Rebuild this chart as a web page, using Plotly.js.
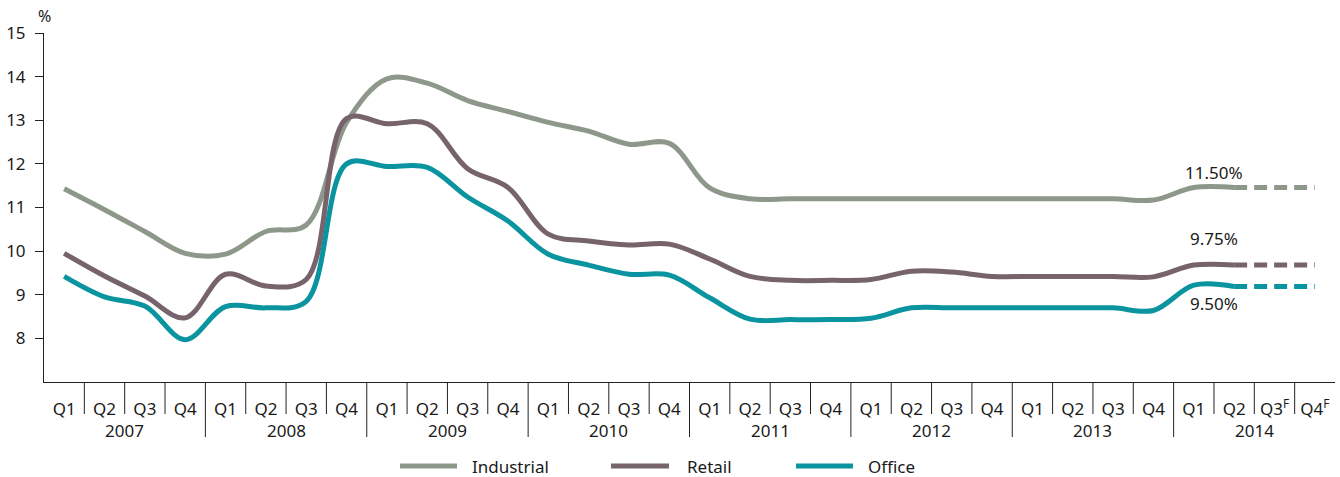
<!DOCTYPE html>
<html><head><meta charset="utf-8">
<script src="https://cdn.plot.ly/plotly-3.0.1.min.js"></script>
<style>html,body{margin:0;padding:0;background:#fff}#chart{width:1340px;height:477px}</style>
</head><body><div id="chart"></div>
<script>
// ---- data ----
const years = ['2007','2008','2009','2010','2011','2012','2013','2014'];
const quarterLabels = [
  'Q1','Q2','Q3','Q4','Q1','Q2','Q3','Q4','Q1','Q2','Q3','Q4','Q1','Q2','Q3','Q4',
  'Q1','Q2','Q3','Q4','Q1','Q2','Q3','Q4','Q1','Q2','Q3','Q4','Q1','Q2','Q3<sup>F</sup>','Q4<sup>F</sup>'
];
const seriesNames = ['Industrial','Retail','Office'];
const industrial = [11.43,10.95,10.45,9.95,9.93,10.45,10.6,12.95,13.95,13.85,13.45,13.2,12.95,12.75,12.45,12.47,
  11.45,11.2,11.2,11.2,11.2,11.2,11.2,11.2,11.2,11.2,11.2,11.17,11.46,11.46,11.46,11.46];
const retail = [9.95,9.43,8.97,8.47,9.47,9.2,9.35,13.04,12.92,12.92,11.89,11.46,10.39,10.23,10.14,10.16,
  9.82,9.42,9.33,9.33,9.35,9.54,9.52,9.42,9.42,9.42,9.42,9.41,9.68,9.68,9.68,9.68];
const office = [9.42,8.95,8.74,7.97,8.73,8.7,8.85,12.0,11.94,11.92,11.24,10.69,9.93,9.68,9.47,9.45,
  8.93,8.44,8.43,8.43,8.46,8.7,8.7,8.7,8.7,8.7,8.7,8.64,9.22,9.19,9.19,9.19];
const endLabels = ['11.50%','9.75%','9.50%'];
const forecastStart = 29; // last actual quarter index (Q2 2014)

// ---- styles ----
const colors = ['#8d988b','#76636c','#0a94a0'];
const FONT = 'Noto Sans, Open Sans, sans-serif';
const FS = 17;
const TXT = '#1a1a1a';
const L = 44, R = 5, T = 33, B = 95, W = 1340, H = 477;
const plotW = W - L - R, plotH = H - T - B;
const px2x = p => (p - L) / plotW;
const px2y = p => (H - B - p) / plotH;

const series = [industrial, retail, office];
const idx = quarterLabels.map((_, i) => i);
const traces = [];
series.forEach((s, k) => {
  traces.push({
    x: idx.slice(0, forecastStart + 1), y: s.slice(0, forecastStart + 1),
    type: 'scatter', mode: 'lines', name: seriesNames[k], showlegend: false,
    line: {color: colors[k], width: 5, shape: 'spline', smoothing: 1}, hoverinfo: 'x+y'
  });
  traces.push({
    x: idx.slice(forecastStart), y: s.slice(forecastStart),
    type: 'scatter', mode: 'lines', name: seriesNames[k] + ' (F)', showlegend: false,
    line: {color: colors[k], width: 5, dash: '13px,7px'}, hoverinfo: 'x+y'
  });
});

const shapes = [];
const annotations = [];
// quarter & year dividers
for (let i = 0; i < quarterLabels.length - 1; i++) {
  const yearBoundary = (i + 1) % 4 === 0;
  shapes.push({type: 'line', xref: 'x', yref: 'paper', x0: i + 0.5, x1: i + 0.5,
    y0: 0, y1: px2y(yearBoundary ? 437 : 414), line: {color: '#222', width: 1}});
}
years.forEach((yr, k) => {
  annotations.push({xref: 'x', yref: 'paper', x: k * 4 + 1.5, y: px2y(430), text: yr,
    showarrow: false, font: {family: FONT, size: FS, color: TXT}, xanchor: 'center', yanchor: 'middle'});
});
// % unit
annotations.push({xref: 'paper', yref: 'paper', x: 0, y: px2y(16), text: '%', showarrow: false,
  font: {family: FONT, size: 16, color: TXT}, xanchor: 'center', yanchor: 'middle'});
// end labels
const labelShift = [15, 27, -17];
series.forEach((s, k) => {
  annotations.push({xref: 'x', yref: 'y', x: 28.5, y: s[forecastStart], yshift: labelShift[k],
    text: endLabels[k], showarrow: false, font: {family: FONT, size: FS, color: TXT},
    xanchor: 'center', yanchor: 'middle'});
});
// custom legend
const legendPos = [[400, 457, 470], [611, 669, 685], [796, 853, 866]];
seriesNames.forEach((n, k) => {
  const [a, b, t] = legendPos[k];
  shapes.push({type: 'line', xref: 'paper', yref: 'paper', x0: px2x(a), x1: px2x(b),
    y0: px2y(466), y1: px2y(466), line: {color: colors[k], width: 5}});
  annotations.push({xref: 'paper', yref: 'paper', x: px2x(t), y: px2y(466), text: n, showarrow: false,
    font: {family: FONT, size: FS, color: TXT}, xanchor: 'left', yanchor: 'middle'});
});

const layout = {
  width: W, height: H,
  margin: {l: L, r: R, t: T, b: B, pad: 0},
  paper_bgcolor: '#fff', plot_bgcolor: '#fff',
  font: {family: FONT, size: FS, color: TXT},
  showlegend: false,
  xaxis: {range: [-0.5, 31.5], tickvals: idx, ticktext: quarterLabels, showgrid: false, zeroline: false,
    showline: true, linecolor: '#222', linewidth: 1, ticks: '', ticklabelstandoff: 12,
    tickfont: {family: FONT, size: FS, color: TXT}, fixedrange: true},
  yaxis: {range: [7, 15], tickvals: [8,9,10,11,12,13,14,15], showgrid: false, zeroline: false,
    showline: true, linecolor: '#222', linewidth: 1, ticks: 'outside', ticklen: 8, tickcolor: '#222',
    ticklabelstandoff: 6, tickfont: {family: FONT, size: FS, color: TXT}, fixedrange: true},
  shapes: shapes, annotations: annotations
};
Plotly.newPlot('chart', traces, layout, {displayModeBar: false, staticPlot: true});
</script></body></html>
